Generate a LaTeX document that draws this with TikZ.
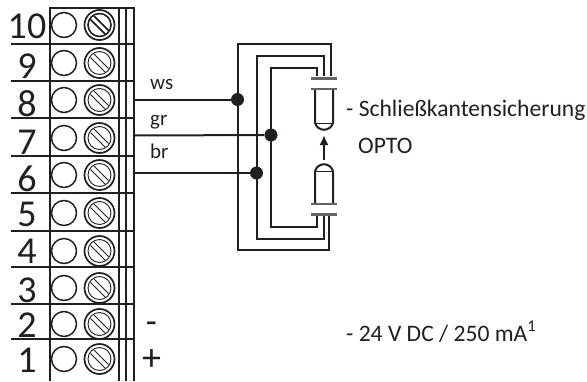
\documentclass[tikz,border=0pt]{standalone}
\usepackage{fontspec}
\setmainfont{Carlito}
\usetikzlibrary{arrows.meta}
\definecolor{ink}{HTML}{231F20}
\tikzset{
	wire/.style={draw=ink,line width=2pt},
	rowline/.style={draw=ink,line width=1.1pt},
	hole/.style={circle,draw=ink,line width=1.5pt,minimum size=25pt,inner sep=0},
	screw/.style={circle,draw=ink,line width=1.7pt,minimum size=30pt,inner sep=0},
	junction/.style={circle,fill=ink,minimum size=13pt,inner sep=0},
	digit/.style={font=\fontsize{38}{38}\selectfont,text=ink,inner sep=0,anchor=base},
	wirelabel/.style={font=\fontsize{21}{21}\selectfont,text=ink,inner sep=0,anchor=base west},
	sign/.style={font=\fontsize{36}{36}\selectfont,text=ink,inner sep=0},
	caption/.style={font=\fontsize{23.6}{23.6}\selectfont,text=ink,inner sep=0,anchor=base west},
	plate/.style={draw=ink!70,line width=2.8pt},
	thinline/.style={draw=ink,line width=0.9pt},
}
\begin{document}
\begin{tikzpicture}[x=1pt,y=-1pt]
\useasboundingbox (0,0) rectangle (587,381);
% block
\draw[wire] (134,381) -- (134,8) -- (49.5,8) -- (49.5,381);
\draw[wire] (118.5,8) -- (118.5,381);
\draw[wire] (126,8) -- (126,381);
\foreach \ypos in {44,81,118,156,193,231,267,304,339}
	\draw[rowline] (11,\ypos) -- (134,\ypos);
% terminals
\foreach \num/\ypos/\ybase in {10/25/38,9/63/78,8/100/116,7/138/154,6/175/191,5/213/226,4/251/263,3/288/302,2/324/337,1/359/372}
{
	\node[digit] (d\num) at (27,\ybase) {\num};
	\node[hole] (h\num) at (64,\ypos) {};
	\node[screw] (s\num) at (99.5,\ypos) {};
	\draw[thinline] (99.5,\ypos) circle (11.5);
	\draw[thinline] (94,\ypos-9) -- (108.5,\ypos+5.5);
	\draw[thinline] (90.5,\ypos-5.5) -- (105,\ypos+9);
}
% top screw is darker
\draw[wire,line width=1.5pt] (99.5,25) circle (11.5);
\draw[wire,line width=1.5pt] (94,16) -- (108.5,30.5);
\draw[wire,line width=1.5pt] (90.5,19.5) -- (105,34);
% junctions
\node[junction] (jws) at (237.5,99.5) {};
\node[junction] (jgr) at (271,135) {};
\node[junction] (jbr) at (256.5,173) {};
\coordinate (ws) at (134,99.5);
\coordinate (gr) at (134,135.5);
\coordinate (br) at (134,173);
\draw[wire] (ws) -- (jws);
\draw[wire] (gr) -- (jgr);
\draw[wire] (br) -- (jbr);
\node[wirelabel] at (150,89) {ws};
\node[wirelabel] at (150,125) {gr};
\node[wirelabel] at (150,158) {br};
% loops
\draw[wire] (331,76) -- (331,43.5) -- (237.5,43.5) -- (237.5,250) -- (329,250) -- (329,216);
\draw[wire] (324,76) -- (324,56) -- (256.5,56) -- (256.5,239) -- (324,239) -- (324,216);
\draw[wire] (316.5,76) -- (316.5,67.5) -- (271,67.5) -- (271,227) -- (316.5,227) -- (316.5,216);
% sensors
\draw[wire] (315,89) -- (315,123) .. controls (318,132) and (330,132) .. (333,123) -- (333,89);
\draw[thinline] (315,123) -- (333,123);
\draw[wire] (315,204) -- (315,171) .. controls (318,162) and (330,162) .. (333,171) -- (333,204);
\draw[thinline] (315,171) -- (333,171);
\draw[plate] (311,78.5) -- (337,78.5);
\draw[plate] (311,89) -- (337,89);
\draw[plate] (311,204) -- (337,204);
\draw[plate] (311,214.5) -- (337,214.5);
\coordinate (ar) at (324,160);
\coordinate (at) at (324,135);
\draw[wire,line width=2.4pt,-{Latex[length=10pt,width=9pt]}] (ar) -- (at);
% texts
\node[caption] (t1) at (346,116) {- Schließkantensicherung};
\node[caption] (t2) at (358,153) {OPTO};
\node[caption] (t3) at (346,341) {- 24 V DC / 250 mA\textsuperscript{1}};
\node[sign] (minus) at (151.5,328) {-};
\node[sign,font=\fontsize{38}{38}\selectfont] (plus) at (151.5,360) {+};
\end{tikzpicture}
\end{document}
